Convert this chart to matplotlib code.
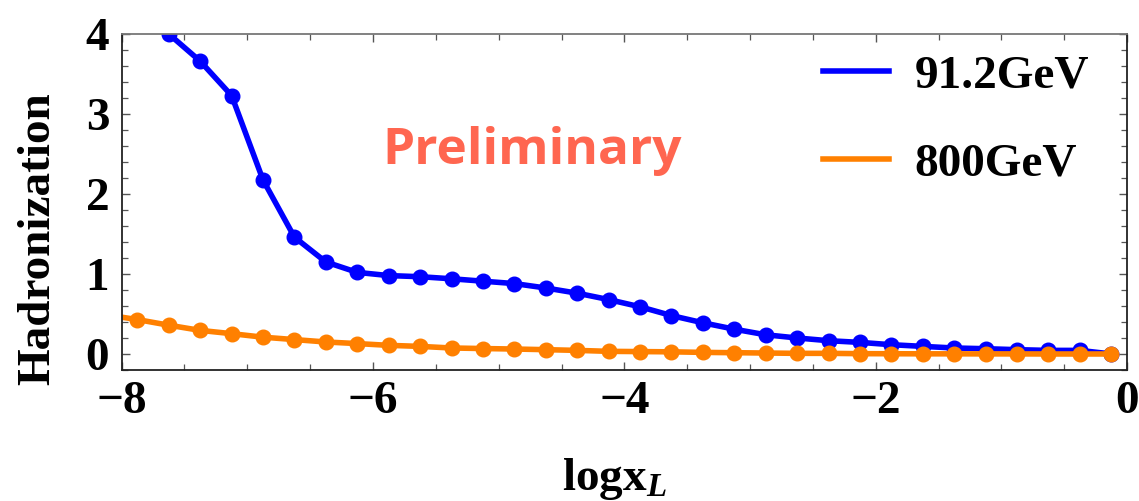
import matplotlib
matplotlib.use("Agg")
import matplotlib.pyplot as plt
from matplotlib.ticker import MultipleLocator

# log x_L bin centres and hadronization values
logx_blue = [-7.625, -7.375, -7.125, -6.875, -6.625, -6.375, -6.125, -5.875,
             -5.625, -5.375, -5.125, -4.875, -4.625, -4.375, -4.125, -3.875,
             -3.625, -3.375, -3.125, -2.875, -2.625, -2.375, -2.125, -1.875,
             -1.625, -1.375, -1.125, -0.875, -0.625, -0.375, -0.125]
had_912 = [4.00, 3.66, 3.23, 2.175, 1.46, 1.15, 1.02, 0.98,
           0.966, 0.94, 0.91, 0.88, 0.825, 0.76, 0.68, 0.59,
           0.48, 0.39, 0.31, 0.24, 0.20, 0.166, 0.145, 0.116,
           0.095, 0.075, 0.066, 0.054, 0.045, 0.045, 0.0]

logx_orange = [-8.125, -7.875, -7.625, -7.375, -7.125, -6.875, -6.625, -6.375,
               -6.125, -5.875, -5.625, -5.375, -5.125, -4.875, -4.625, -4.375,
               -4.125, -3.875, -3.625, -3.375, -3.125, -2.875, -2.625, -2.375,
               -2.125, -1.875, -1.625, -1.375, -1.125, -0.875, -0.625, -0.375,
               -0.125]
had_800 = [0.49, 0.43, 0.36, 0.295, 0.254, 0.21, 0.18, 0.15,
           0.13, 0.108, 0.095, 0.075, 0.068, 0.062, 0.054, 0.045,
           0.033, 0.03, 0.027, 0.02, 0.016, 0.012, 0.008, 0.008,
           0.004, 0.003, 0.002, 0.002, 0.001, 0.001, 0.0, 0.0,
           0.0]

labels = ["91.2GeV", "800GeV"]

plt.rcParams['font.family'] = ['Liberation Serif', 'DejaVu Serif']
plt.rcParams['font.weight'] = 'bold'
plt.rcParams['mathtext.fontset'] = 'custom'
plt.rcParams['mathtext.rm'] = 'Liberation Serif:bold'
plt.rcParams['mathtext.bf'] = 'Liberation Serif:bold'
plt.rcParams['mathtext.it'] = 'Liberation Serif:bold:italic'

fig = plt.figure(figsize=(11.39, 5.01), dpi=100)
ax = fig.add_axes([0.1068, 0.2615, 0.8827, 0.6707])

ax.plot(logx_blue, had_912, color='#0000FF', linewidth=4, marker='o',
        markersize=10.5, label=labels[0], solid_joinstyle='round')
ax.plot(logx_orange, had_800, color='#FF8000', linewidth=4, marker='o',
        markersize=10.5, label=labels[1], solid_joinstyle='round')

ax.set_xlim(-8, 0)
ax.set_ylim(-0.2, 4.0)
ax.xaxis.set_major_locator(MultipleLocator(2))
ax.xaxis.set_minor_locator(MultipleLocator(0.5))
ax.yaxis.set_major_locator(MultipleLocator(1))
ax.yaxis.set_minor_locator(MultipleLocator(0.2))
ax.tick_params(which='both', direction='in', top=True, right=True,
               labelsize=34, color='#555555')
ax.tick_params(which='major', length=6, width=1.0)
ax.tick_params(which='minor', length=4, width=0.9)
ax.tick_params(axis='x', pad=8)
ax.tick_params(axis='y', pad=9)
for lab in ax.get_xticklabels() + ax.get_yticklabels():
    lab.set_fontweight('bold')

for side in ['left', 'bottom', 'right']:
    ax.spines[side].set_color('#222222')
    ax.spines[side].set_linewidth(1.3)
ax.spines['top'].set_color('#777777')
ax.spines['top'].set_linewidth(1.3)

ax.set_xlabel(r'$\mathbf{logx}_{L}$', fontsize=34)
ax.xaxis.set_label_coords(0.49, -0.255)
ax.set_ylabel('Hadronization', fontsize=34, fontweight='bold')
ax.yaxis.set_label_coords(-0.062, 0.39)

ax.text(-4.73, 2.37, 'Preliminary', fontsize=37, color='#FF6650',
        family=['Open Sans', 'DejaVu Sans'], fontweight='bold',
        ha='center', va='baseline')

leg = ax.legend(loc='upper left', bbox_to_anchor=(0.655, 1.065), frameon=False,
                fontsize=34, handlelength=1.4, handletextpad=0.55,
                labelspacing=0.95)
for h in leg.get_lines():
    h.set_marker('')
    h.set_linewidth(4)
for t in leg.get_texts():
    t.set_fontweight('bold')

fig.savefig('out.png', dpi=100)
plt.close(fig)
